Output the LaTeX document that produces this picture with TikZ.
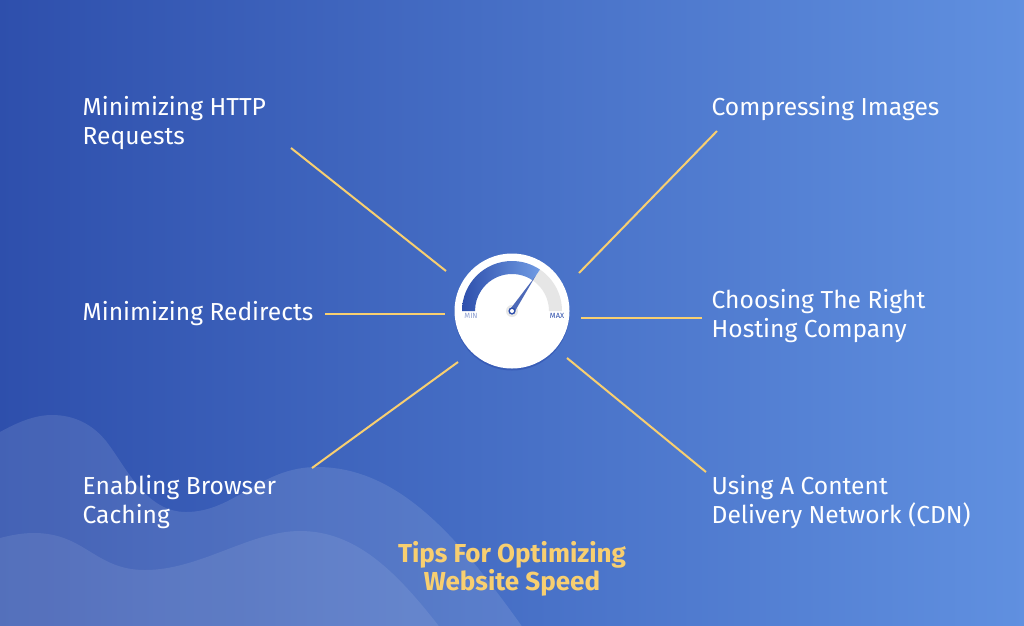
\documentclass[tikz,border=0pt]{standalone}
\usepackage{fontspec}
\setmainfont{Fira Sans}
\usetikzlibrary{calc}
\definecolor{fondgauche}{HTML}{2E4FAC}
\definecolor{fonddroite}{HTML}{6090E0}
\definecolor{ligne}{HTML}{F8CF70}
\definecolor{cadran}{HTML}{E6E6E6}
\tikzstyle{etiquette} = [
    anchor = west,
    inner sep = 0pt,
    align = left,
    text = white,
    font = \fontsize{24.6}{29}\selectfont,
]
\tikzstyle{titre} = [
    inner sep = 0pt,
    align = center,
    text = ligne,
    font = \fontsize{26}{28}\selectfont\bfseries,
]
\tikzstyle{rayon} = [
    draw = ligne,
    line width = 2pt,
]
\tikzstyle{graduation} = [
    inner sep = 0pt,
    font = \fontsize{7.5}{7.5}\selectfont,
]

\begin{document}
\begin{tikzpicture} [x = 1pt, y = -1pt]
    \useasboundingbox (0, 0) rectangle (1024, 625);
    \shade[left color = fondgauche, right color = fonddroite] (-2, -2) rectangle (1026, 628);

    % vagues
    \fill[white, opacity = 0.11] (-2, 433) -- (0, 432) .. controls (18, 422) and (35, 415) .. (52, 415)
        .. controls (75, 415) and (93, 425) .. (106, 441)
        .. controls (125, 465) and (145, 512) .. (186, 512)
        .. controls (235, 512) and (260, 467) .. (317, 467)
        .. controls (400, 467) and (460, 540) .. (521, 625)
        -- (523, 628) -- (-2, 628) -- cycle;
    \fill[white, opacity = 0.09] (-2, 538) -- (0, 538) .. controls (12, 535) and (22, 533) .. (34, 533)
        .. controls (85, 533) and (95, 570) .. (145, 570)
        .. controls (200, 570) and (250, 531) .. (300, 531)
        .. controls (355, 531) and (395, 570) .. (438, 625)
        -- (440, 628) -- (-2, 628) -- cycle;

    \node (Http) [etiquette] at (82.5, 123) {Minimizing HTTP\\Requests};
    \node (Redirects) [etiquette] at (82.5, 314) {Minimizing Redirects};
    \node (Cache) [etiquette] at (82.5, 502) {Enabling Browser\\Caching};
    \node (Images) [etiquette] at (711.5, 109) {Compressing Images};
    \node (Hebergement) [etiquette] at (711.5, 316.5) {Choosing The Right\\Hosting Company};
    \node (Reseau) [etiquette] at (711.5, 502.5) {Using A Content\\Delivery Network (CDN)};
    \node (Titre) [titre] at (512, 568.5) {Tips For Optimizing\\Website Speed};

    % compteur
    \fill[fondgauche, opacity = 0.55] (512, 313) circle (57.5);
    \node (Compteur) [circle, fill = white, minimum size = 115pt, inner sep = 0pt] at (512, 311) {};
    \fill[cadran] ($(Compteur) + (50, 0)$) arc[start angle = 0, end angle = -56, radius = 50]
        -- ($(Compteur) + (-56:37)$) arc[start angle = -56, end angle = 0, radius = 37] -- cycle;
    \shade[left color = fondgauche, right color = fonddroite!90!white]
        ($(Compteur) + (-50, 0)$) arc[start angle = -180, end angle = -56, radius = 50]
        -- ($(Compteur) + (-56:37)$) arc[start angle = -56, end angle = -180, radius = 37] -- cycle;
    \node (Min) [graduation, text = fondgauche!55!white] at (471, 315.5) {MIN};
    \node (Max) [graduation, text = fondgauche] at (557, 315.5) {MAX};
    \fill[cadran] (Compteur) circle (6);
    \fill[fondgauche!85!white] ($(Compteur) + (-2.5, -1)$) -- (535.5, 276) -- ($(Compteur) + (2.5, 1)$) -- cycle;
    \fill[fondgauche] (Compteur) circle (3.6);
    \fill[white] (Compteur) circle (2);

    % rayons
    \coordinate (HttpA) at (291, 148);
    \coordinate (HttpB) at (446, 271);
    \coordinate (RedirectsA) at (325, 314);
    \coordinate (RedirectsB) at (445, 314);
    \coordinate (CacheA) at (312, 468);
    \coordinate (CacheB) at (458, 362);
    \coordinate (ImagesA) at (717, 131);
    \coordinate (ImagesB) at (579, 273);
    \coordinate (HebergementA) at (702, 318);
    \coordinate (HebergementB) at (581, 318);
    \coordinate (ReseauA) at (706, 472);
    \coordinate (ReseauB) at (567, 358);

    \draw[rayon] (HttpA) -- (HttpB);
    \draw[rayon] (RedirectsA) -- (RedirectsB);
    \draw[rayon] (CacheA) -- (CacheB);
    \draw[rayon] (ImagesA) -- (ImagesB);
    \draw[rayon] (HebergementA) -- (HebergementB);
    \draw[rayon] (ReseauA) -- (ReseauB);
\end{tikzpicture}
\end{document}
